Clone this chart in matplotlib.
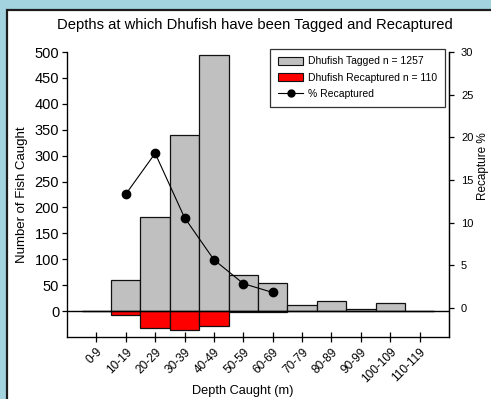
import numpy as np
import matplotlib
matplotlib.use("Agg")
import matplotlib.pyplot as plt
from matplotlib.patches import Rectangle, Patch
from matplotlib.lines import Line2D
from matplotlib.transforms import ScaledTranslation

plt.rcParams['font.family'] = ['Liberation Sans', 'DejaVu Sans']

# Depth bins (m) and fish counts
depth_bins = ['0-9', '10-19', '20-29', '30-39', '40-49', '50-59',
              '60-69', '70-79', '80-89', '90-99', '100-109', '110-119']
tagged = [1, 60, 182, 340, 495, 70, 55, 12, 20, 5, 16, 1]
recaptured = [0, 8, 33, 36, 28, 2, 1, 0, 0, 0, 0, 0]

legend_labels = ['Dhufish Tagged n = 1257', 'Dhufish Recaptured n = 110',
                 '% Recaptured']

x = np.arange(len(depth_bins))
tagged_arr = np.array(tagged, dtype=float)
recap_arr = np.array(recaptured, dtype=float)
has_recap = recap_arr > 0
recap_pct = recap_arr[has_recap] / tagged_arr[has_recap] * 100

fig = plt.figure(figsize=(4.91, 3.99), dpi=100, facecolor='#a3d3de')

# white chart panel framed on the left and top
panel = Rectangle((7 / 491, -0.1), 1.2, 0.1 + 389.5 / 399,
                  transform=fig.transFigure, facecolor='white',
                  edgecolor='#1c1c1c', lw=1.6, zorder=-5)
fig.patches.append(panel)

ax = fig.add_axes([67 / 491, 62 / 399, 382 / 491, 285 / 399])
ax.set_facecolor('none')

ax.bar(x, tagged_arr, width=1.0, color='#c0c0c0', edgecolor='#111111',
       lw=0.9, zorder=2)
ax.bar(x, -recap_arr, width=1.0, color='#ff0000', edgecolor='#111111',
       lw=0.9, zorder=2)
ax.axhline(0, color='black', lw=1.0, zorder=3)

ax.set_xlim(-1, 12)
ax.set_ylim(-50, 500)
ax.set_yticks(np.arange(0, 501, 50))
ax.set_xticks(x)
ax.set_xticklabels(depth_bins, rotation=45, ha='right', va='top',
                   rotation_mode='anchor', fontsize=8.6)
offset = ScaledTranslation(1.5 / 72, 0, fig.dpi_scale_trans)
for lbl in ax.get_xticklabels():
    lbl.set_transform(lbl.get_transform() + offset)

ax.tick_params(axis='y', direction='out', length=3.6, width=0.9, pad=2,
               labelsize=10.5)
ax.tick_params(axis='x', direction='inout', length=6.5, width=0.9, pad=3)
ax.spines['top'].set_visible(False)
for s in ('left', 'bottom', 'right'):
    ax.spines[s].set_linewidth(0.9)

ax.set_ylabel('Number of Fish Caught', fontsize=9.5, va='center',
              ha='center', rotation_mode='default')
ax.yaxis.set_label_coords(-0.118, 0.5)

ax2 = ax.twinx()
ax2.plot(x[has_recap], recap_pct, color='black', lw=0.8, marker='o',
         markersize=6, zorder=4)
ax2.set_ylim(-3.4, 30)
ax2.set_yticks(np.arange(0, 31, 5))
ax2.tick_params(axis='y', direction='out', length=3.6, width=0.9, pad=5,
                labelsize=8)
ax2.spines['top'].set_visible(False)
ax2.spines['right'].set_linewidth(0.9)
ax2.set_ylabel('Recapture %', fontsize=8.5, rotation=90, va='center',
               ha='center', rotation_mode='default')
ax2.yaxis.set_label_coords(1.088, 0.60)

handles = [Patch(facecolor='#c0c0c0', edgecolor='#111111', lw=0.8),
           Patch(facecolor='#ff0000', edgecolor='#111111', lw=0.8),
           Line2D([0], [0], color='black', lw=0.8, marker='o', markersize=5)]
leg = ax2.legend(handles, legend_labels, loc='upper right',
                 bbox_to_anchor=(0.99, 1.012), fontsize=7.5, frameon=True,
                 fancybox=False, edgecolor='black', handlelength=2.4,
                 handleheight=0.75, borderpad=0.75, labelspacing=0.6,
                 handletextpad=0.5, borderaxespad=0)
leg.get_frame().set_linewidth(0.9)

fig.text(0.52, 0.937, 'Depths at which Dhufish have been Tagged and Recaptured',
         ha='center', va='center', fontsize=10.6)
ax.set_xlabel('Depth Caught (m)', fontsize=9.2)
ax.xaxis.set_label_coords((242.5 - 67) / 382, -0.19)
ax.xaxis.label.set_va('center')

fig.savefig('out.png', dpi=100, facecolor=fig.get_facecolor())
